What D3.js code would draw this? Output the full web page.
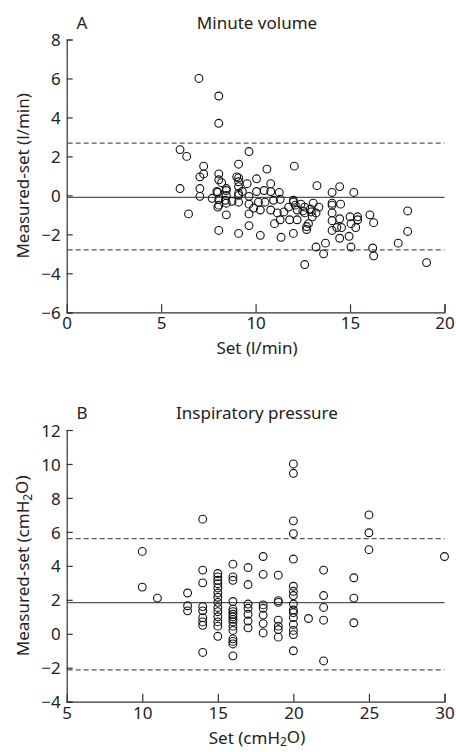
<!DOCTYPE html>
<html>
<head>
<meta charset="utf-8">
<script src="https://cdn.jsdelivr.net/npm/d3@7"></script>
<style>
  body { margin: 0; background: #fff; }
  svg text { font-family: "Noto Sans", sans-serif; fill: #222; }
</style>
</head>
<body>
<div id="chart"></div>
<script>
// Panel A: minute volume, [set, measured-set]
var aPoints = [
  [6.0,2.35],[6.35,2.0],[6.0,0.35],[6.45,-0.95],
  [7.0,6.0],[8.05,5.1],[8.05,3.7],
  [7.25,1.5],[7.25,1.1],[7.05,0.95],[7.05,0.35],[7.05,-0.05],
  [7.7,-0.15],[8.05,1.1],[8.05,0.8],[8.2,0.65],[8.0,0.15],[8.05,-0.2],[8.0,-0.6],[8.05,-1.8],[7.95,0.2],[8.05,-0.5],
  [8.45,0.35],[8.45,-0.4],[8.45,-1.0],[8.45,0.0],[8.75,-0.3],[8.4,-0.25],[8.45,0.25],
  [9.1,1.6],[9.1,0.9],[9.1,0.7],[9.1,0.45],[9.1,0.0],[9.1,-0.35],[9.1,-1.95],[9.0,0.95],[9.1,0.1],
  [9.55,0.6],[9.65,2.25],[9.65,-0.05],[9.65,-0.45],[9.65,-0.95],[9.65,-1.55],[9.3,0.2],
  [10.05,0.85],[10.05,0.2],[10.15,-0.35],[10.25,-0.75],[10.25,-2.05],[9.9,-0.65],
  [10.45,0.25],[10.5,-0.35],[10.6,1.35],[10.8,0.6],[10.8,0.2],[10.8,-0.75],[10.95,-0.25],[11.0,-1.45],
  [11.25,0.15],[11.3,-0.2],[11.15,-0.9],[11.3,-1.25],[11.35,-2.15],[11.5,-0.85],[11.75,-0.6],[11.8,-1.25],
  [12.0,-0.25],[12.05,1.5],[12.0,-1.95],[12.1,-0.5],[12.2,-0.75],[12.2,-1.25],[12.4,-0.45],[12.0,-0.35],
  [12.6,-0.6],[12.6,-0.9],[12.7,-1.75],[12.6,-3.55],[12.8,-1.45],[12.9,-0.7],[13.05,-0.4],[13.0,-1.1],
  [13.2,-0.9],[13.35,-0.6],[13.25,0.5],[13.2,-2.65],[12.7,-1.6],[12.5,-0.8],[12.95,-0.85],
  [13.7,-2.45],[13.6,-3.0],
  [14.05,0.15],[14.05,-0.5],[14.05,-0.9],[14.05,-1.3],[14.05,-1.8],[14.45,0.45],[14.5,-0.45],[14.45,-1.2],
  [14.3,-1.65],[14.55,-1.65],[14.45,-2.2],[14.05,-0.4],
  [15.2,0.15],[15.0,-1.1],[15.05,-1.45],[15.3,-1.65],[15.4,-1.1],[15.4,-1.25],[14.95,-2.1],[15.05,-2.65],
  [16.05,-1.0],[16.25,-1.4],[16.2,-2.7],[16.25,-3.1],
  [17.55,-2.45],[18.05,-0.8],[18.05,-1.85],[19.05,-3.45]
];
var aXTicks = [0, 5, 10, 15, 20];
var aYTicks = [-6, -4, -2, 0, 2, 4, 6, 8];
var aMean = -0.1, aLimits = [2.68, -2.8];

// Panel B: inspiratory pressure, set value -> list of measured-set
var bSet = [10, 11, 13, 14, 15, 16, 17, 18, 19, 20, 21, 22, 24, 25, 30];
var bDiff = [
  [4.85, 2.75],
  [2.1],
  [2.4, 1.65, 1.35],
  [6.75, 3.75, 3.0, 1.6, 1.35, 0.95, 0.7, 0.5, -1.1],
  [3.55, 3.35, 3.15, 2.95, 2.7, 2.4, 2.15, 1.85, 1.55, 1.3, 1.0, 0.7, 0.45, -0.15],
  [4.1, 3.35, 3.15, 1.9, 1.45, 1.3, 1.15, 1.0, 0.85, 0.7, 0.45, 0.2, -0.3, -0.45, -0.6, -1.3],
  [3.9, 2.9, 1.75, 1.5, 1.15, 0.75, 0.35],
  [4.55, 3.5, 1.7, 1.5, 1.1, 0.6, 0.05],
  [3.45, 1.95, 1.85, 0.8, 0.45, 0.25, -0.2],
  [10.0, 9.45, 6.65, 5.9, 4.4, 2.8, 2.5, 2.25, 1.75, 1.4, 1.25, 0.95, 0.55, 0.2, -0.05, -1.0],
  [0.9],
  [3.75, 2.25, 1.55, 0.8, -1.6],
  [3.3, 2.1, 0.65],
  [7.0, 5.95, 4.95],
  [4.55]
];
var bXTicks = [5, 10, 15, 20, 25, 30];
var bYTicks = [-4, -2, 0, 2, 4, 6, 8, 10, 12];
var bMean = 1.83, bLimits = [5.6, -2.13];

var W = 456, H = 752;
var svg = d3.select('#chart').append('svg')
    .attr('width', W)
    .attr('height', H);

function drawPanel(opt) {
    var x = d3.scaleLinear().domain(opt.xDomain).range([66.7, 444.5]);
    var y = d3.scaleLinear().domain(opt.yDomain).range([opt.bottom, opt.top]);
    var g = svg.append('g');

    // axes, ticks pointing inward
    var xAxis = d3.axisBottom(x).tickValues(opt.xTicks).tickSize(-8).tickPadding(5);
    var yAxis = d3.axisLeft(y).tickValues(opt.yTicks).tickSize(-6).tickPadding(6)
        .tickFormat(function(d) { return d < 0 ? '\u2212' + Math.abs(d) : d; });

    var gx = g.append('g')
        .attr('transform', 'translate(0,' + opt.bottom + ')')
        .call(xAxis);
    var gy = g.append('g')
        .attr('transform', 'translate(66.7,0)')
        .call(yAxis);
    [gx, gy].forEach(function(a) {
        a.select('.domain').attr('stroke', '#333').attr('stroke-width', 1.2);
        a.selectAll('.tick line').attr('stroke', '#333').attr('stroke-width', 1.2);
        a.selectAll('.tick text').style('font-size', '17px').attr('fill', '#222');
    });
    // the corner tick on x is hidden by the y axis in the reference
    gx.selectAll('.tick').filter(function(d) { return d === opt.xDomain[0]; }).select('line').remove();
    gy.selectAll('.tick text').attr('dy', '0.36em');

    // mean and limits of agreement
    g.append('line')
        .attr('x1', x(opt.xDomain[0]) + 1).attr('x2', x(opt.xDomain[1]))
        .attr('y1', y(opt.mean)).attr('y2', y(opt.mean))
        .attr('stroke', '#555').attr('stroke-width', 1.2);
    g.selectAll('.limit').data(opt.limits).enter().append('line')
        .attr('class', 'limit')
        .attr('x1', x(opt.xDomain[0]) + 1).attr('x2', x(opt.xDomain[1]))
        .attr('y1', function(d) { return y(d); }).attr('y2', function(d) { return y(d); })
        .attr('stroke', '#555').attr('stroke-width', 1.2)
        .attr('stroke-dasharray', '5,3');

    // points
    g.append('g').selectAll('circle').data(opt.points).enter().append('circle')
        .attr('cx', function(d) { return x(d[0]); })
        .attr('cy', function(d) { return y(d[1]); })
        .attr('r', 3.9)
        .attr('fill', 'none')
        .attr('stroke', '#111')
        .attr('stroke-width', 1.1);

    // panel letter and title
    g.append('text').attr('x', 82).attr('y', opt.top - 11)
        .attr('text-anchor', 'middle').style('font-size', '17px').text(opt.letter);
    g.append('text').attr('x', 257).attr('y', opt.top - 11)
        .attr('text-anchor', 'middle').style('font-size', '17px').text(opt.title);

    // axis labels
    var xl = g.append('text').attr('x', 257).attr('y', opt.bottom + 42)
        .attr('text-anchor', 'middle').style('font-size', '17px');
    opt.xLabel(xl);
    var yl = g.append('text')
        .attr('transform', 'translate(29,' + ((opt.top + opt.bottom) / 2) + ')rotate(-90)')
        .attr('text-anchor', 'middle').style('font-size', '17px');
    opt.yLabel(yl);
}

function water(t, before) {
    t.append('tspan').text(before + 'cmH');
    t.append('tspan').attr('dy', '0.22em').style('font-size', '12px').text('2');
    t.append('tspan').attr('dy', '-0.22em').text('O)');
}

drawPanel({
    letter: 'A', title: 'Minute volume',
    xDomain: [0, 20], yDomain: [-6, 8],
    top: 39.5, bottom: 312.3,
    xTicks: aXTicks, yTicks: aYTicks,
    mean: aMean, limits: aLimits,
    points: aPoints,
    xLabel: function(t) { t.text('Set (l/min)'); },
    yLabel: function(t) { t.text('Measured-set (l/min)'); }
});

var bPoints = [];
bSet.forEach(function(s, i) {
    bDiff[i].forEach(function(v) { bPoints.push([s, v]); });
});

drawPanel({
    letter: 'B', title: 'Inspiratory pressure',
    xDomain: [5, 30], yDomain: [-4, 12],
    top: 430, bottom: 701.7,
    xTicks: bXTicks, yTicks: bYTicks,
    mean: bMean, limits: bLimits,
    points: bPoints,
    xLabel: function(t) { water(t, 'Set ('); },
    yLabel: function(t) { water(t, 'Measured-set ('); }
});
</script>
</body>
</html>
